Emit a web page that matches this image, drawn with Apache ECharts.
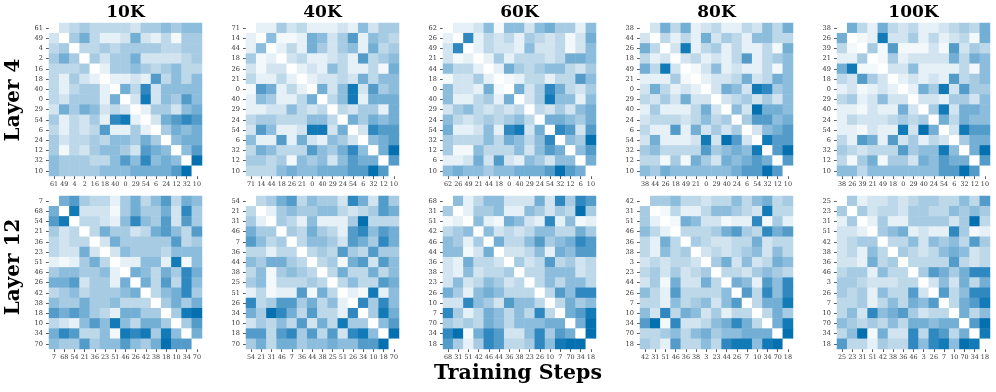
<!DOCTYPE html>
<html>
<head>
<meta charset="utf-8">
<style>html,body{margin:0;padding:0;background:#fff}#main{width:996px;height:392px}</style>
<script src="https://cdn.jsdelivr.net/npm/echarts@6/dist/echarts.min.js"></script>
</head>
<body>
<div id="main"></div>
<script>
var steps = ['10K', '40K', '60K', '80K', '100K'];
var layers = ['Layer 4', 'Layer 12'];

// tick labels per panel
var ticksL4 = [
	[61,49,4,2,16,18,40,0,29,54,6,24,12,32,10],
	[71,14,44,18,26,21,0,40,29,24,54,6,32,12,10],
	[62,26,49,21,44,18,0,40,29,24,54,32,12,6,10],
	[38,44,26,18,49,21,0,29,40,24,6,54,32,12,10],
	[38,26,39,21,49,18,0,29,40,24,54,6,32,12,10]
];
var ticksL12 = [
	[7,68,54,21,36,23,51,46,26,42,38,18,10,34,70],
	[54,21,31,46,7,36,44,38,25,51,26,34,10,18,70],
	[68,31,51,42,46,44,36,38,23,26,10,7,70,34,18],
	[42,31,51,46,36,38,3,23,44,26,7,10,34,70,18],
	[25,23,31,51,42,38,36,46,3,26,7,10,70,34,18]
];

// cell values
var l4_10k = [
	[0,2,3,4,3,3,3,3,2,4,4,5,4,5,5],
	[2,0,4,6,3,1,1,2,6,2,1,3,0.5,4,4],
	[3,4,0,3,3,4,3,4,4,4,4,3,3,4,4],
	[4,6,4,0,4,2,4,4,6,2,2,2,2,3,4],
	[3,3,3,4,0,1,4,4,5,4,3,4,5,3,3],
	[3,1,4,2,1,0,1,1,2,1,7,3,5,3,5],
	[3,1,3,4,4,1,0,6,3,8,2,5,5,5,5],
	[3,2,4,4,4,1,6,0,2,9,2,5,4,7,5],
	[2,6,4,6,5,2,3,2,0,1,4,4,2,5,6],
	[4,1,3,2,4,1,8,9,1,0,2,6,7,8,7],
	[3,1,3,2,3,7,1,1,4,1,0,4,6,5,6],
	[4,2,3,3,4,3,5,5,4,6,4,0,5,6,6],
	[4,0.5,3,2,4,5,5,4,2,7,6,5,0,5,7],
	[5,4,4,4,3,3,5,7,5,8,5,6,5,0,10],
	[5,4,4,4,4,5,5,5,6,6,6,6,7,10,0]
];
var l4_40k = [
	[0,1,1,4,2,3,1,1,1,2,1,5,2,4,4],
	[1,0,5,0.5,0.5,1,6,5,2,4,7,1,5,4,3],
	[1,5,0,1,3,1,6,4,2,4,5,1,6,3,4],
	[4,0.5,1,0,2,3,1,1,2,3,1,7,3,4,5],
	[2,0.5,2,2,0,1,2,1,5,3,1,1,3,0.5,6],
	[3,1,1,3,1,0,1,2,2,3,2,6,3,5,5],
	[0.5,7,6,1,3,1,0,6,2,5,9,2,7,4,5],
	[1,5,4,1,1,3,6,0,3,5,9,1,6,6,6],
	[1,1,2,2,5,3,2,3,0,3,2,4,4,1,6],
	[3,4,4,3,3,3,5,5,3,0,6,4,6,5,6],
	[2,7,5,1,1,2,9,9,2,6,0,2,8,7,7],
	[5,1,1,7,1,6,2,1,5,4,2,0,5,6,7],
	[3,6,5,3,3,3,7,5,4,6,8,5,0,6,10],
	[4,4,3,4,0.5,5,4,5,2,5,7,6,6,0,7],
	[3,3,3,5,6,5,5,6,6,6,7,7,10,7,0]
];
var l4_60k = [
	[0,1,1,2,5,0.5,5,5,2,5,6,4,4,1,5],
	[1,0,8,1,3,2,3,1,4,3,2,3,0.5,2,6],
	[2,8,0,1,3,2,2,1,5,2,2,3,0.5,2,5],
	[2,0.5,1,0,1,4,1,3,3,3,2,3,6,6,5],
	[5,3,3,1,0,1,6,4,3,4,5,5,3,2,4],
	[0.5,2,2,4,1,0,0.5,1,3,3,1,3,3,7,5],
	[5,2,2,1,6,0.5,0,6,2,4,8,6,3,2,4],
	[5,1,1,3,4,1,6,0,2,4,9,5,5,1,5],
	[2,4,5,3,2,3,2,3,0,3,2,4,2,5,6],
	[5,3,2,3,4,3,4,5,3,0,6,6,5,4,6],
	[6,1,1,2,5,1,8,9,2,6,0,8,7,2,7],
	[4,3,3,3,5,3,6,5,3,5,8,0,5,4,10],
	[4,0.5,0.5,5,3,3,3,5,2,5,7,6,0,5,7],
	[1,1,2,6,2,7,2,1,5,4,2,5,5,0,6],
	[5,6,5,5,4,5,5,6,6,6,7,10,7,6,0]
];
var l4_80k = [
	[0,2,6,3,6,1,2,3,1,1,3,2,5,3,6],
	[2,0,3,1,3,1,6,2,4,3,1,5,5,3,3],
	[6,3,0,2,9,1,3,4,1,3,1,1,3,0.5,6],
	[3,1,2,0,2,3,1,2,1,3,7,1,3,4,5],
	[6,3,9,2,0,0.5,2,5,1,2,1,1,3,0.5,5],
	[1,1,1,4,0.5,0,1,2,2,3,6,2,3,6,5],
	[2,6,3,1,2,1,0,2,6,5,2,9,8,4,5],
	[3,2,4,2,6,2,2,0,2,3,4,2,4,2,5],
	[1,4,1,1,1,3,6,2,0,5,2,10,6,6,5],
	[2,3,3,3,2,3,5,3,4,0,4,7,7,5,6],
	[3,1,1,7,1,6,2,4,2,4,0,2,5,6,7],
	[2,6,1,1,1,2,9,2,10,7,2,0,9,7,7],
	[4,5,3,3,3,3,7,4,5,6,5,9,0,7,10],
	[3,3,0.5,4,0.5,6,4,2,6,5,6,7,6,0,7],
	[5,4,6,5,5,5,5,5,5,6,7,7,10,7,0]
];
var l4_100k = [
	[0,6,3,1,6,3,2,3,1,1,2,3,4,3,6],
	[6,0,0.5,1,9,2,2,4,1,3,1,2,3,0.5,6],
	[3,0.5,0,4,0.5,7,0.5,0.5,0.5,2,0.5,7,2,4,3],
	[1,1,4,0,0.5,4,1,2,2,2,2,6,3,6,5],
	[6,9,0.5,0.5,0,2,2,5,1,1,1,1,3,0.5,5],
	[3,2,7,4,2,0,1,2,1,2,1,7,3,4,5],
	[1,2,0.5,1,2,1,0,1,6,4,9,2,7,4,4],
	[3,4,1,2,5,2,2,0,2,2,1,4,4,2,5],
	[1,1,0.5,2,1,1,6,2,0,4,9,2,6,6,5],
	[1,3,2,2,2,3,4,3,4,0,6,3,6,5,5],
	[1,1,0.5,2,1,1,9,2,10,6,0,2,9,7,7],
	[3,1,7,6,1,7,2,4,1,3,2,0,4,6,6],
	[4,3,2,3,3,3,7,4,5,5,9,5,0,6,10],
	[3,0.5,4,6,0.5,4,4,2,6,5,7,6,6,0,7],
	[5,5,3,5,5,5,5,5,5,5,7,7,10,7,0]
];
var l12_10k = [
	[0,6,7,4,3,3,1,4,6,3,5,7,3,6,5],
	[6,0,9,2,2,2,0.5,4,6,4,4,6,2,8,4],
	[7,9,0,3,3,2,1,5,8,5,4,7,2,7,4],
	[4,2,3,0,3,6,4,4,2,3,6,7,5,3,7],
	[3,2,3,3,0,2,6,4,4,4,4,4,7,3,4],
	[3,2,2,6,2,0,2,5,4,4,4,3,5,5,5],
	[1,0.5,1,4,6,3,0,1,1,5,5,1,9,0.5,5],
	[4,5,5,4,4,5,1,0,6,5,3,6,4,8,6],
	[6,6,7,2,4,4,1,6,0,6,3,7,3,8,5],
	[3,4,5,3,4,4,4,5,6,0,3,5,6,8,4],
	[5,4,4,6,4,4,5,3,3,3,0,4,6,4,6],
	[7,6,7,6,4,3,1,6,6,4,4,0,4,9,10],
	[3,2,1,5,7,5,9,5,3,6,6,4,0,4,7],
	[6,8,7,3,3,5,0.5,9,8,9,4,9,5,0,6],
	[5,4,4,7,4,5,5,7,5,4,6,10,7,7,0]
];
var l12_40k = [
	[0,3,4,6,7,3,5,4,4,2,8,6,2,7,4],
	[3,0,1,4,5,4,4,5,5,3,2,3,4,7,6],
	[4,1,0,4,3,1,5,1,1,1,4,10,3,3,3],
	[6,4,4,0,4,3,6,4,3,1,7,8,5,7,6],
	[7,5,3,4,0,3,5,5,4,2,7,6,4,8,6],
	[3,3,1,3,3,0,3,4,3,7,4,3,7,4,4],
	[5,4,6,6,4,3,0,3,4,0.5,6,7,2,7,5],
	[3,5,0.5,4,5,4,3,0,3,6,3,3,6,3,5],
	[4,5,0.5,3,3,3,4,3,0,3,5,3,3,7,6],
	[1,3,0.5,1,1,7,0.5,6,3,0,1,0.5,9,1,5],
	[8,3,4,7,7,4,6,3,5,1,0,8,4,8,5],
	[6,4,10,8,6,3,7,3,3,1,8,0,4,9,6],
	[2,4,3,5,3,7,2,6,3,9,4,4,0,5,7],
	[7,7,3,7,8,4,7,3,7,2,8,9,5,0,10],
	[4,6,3,6,6,4,5,5,6,5,5,7,7,10,0]
];
var l12_60k = [
	[0,5,1,3,5,5,2,2,2,6,2,8,4,8,7],
	[4,0,1,4,4,5,1,1,5,4,2,4,3,10,4],
	[0.5,1,0,5,1,0.5,6,5,2,1,8,1,5,0.5,1],
	[3,4,5,0,5,2,3,2,3,5,5,3,3,6,4],
	[5,4,1,4,0,6,3,3,5,7,4,5,6,8,7],
	[5,5,0.5,2,6,0,2,2,3,5,1,6,5,7,7],
	[2,1,6,3,3,2,0,4,2,3,7,3,4,2,3],
	[2,1,5,2,3,3,4,0,3,3,5,5,5,2,3],
	[2,5,2,3,5,4,2,3,0,3,5,3,5,5,3],
	[6,4,1,5,6,5,3,3,3,0,3,7,5,8,8],
	[2,2,8,5,4,2,7,5,5,3,0,3,6,4,5],
	[8,4,1,3,6,5,3,5,3,8,3,0,6,7,9],
	[4,3,4,3,6,5,3,5,5,5,6,6,0,6,10],
	[8,10,0.5,6,8,7,2,2,5,8,4,7,6,0,10],
	[7,4,1,4,8,7,3,3,4,8,5,9,10,10,0]
];
var l12_80k = [
	[0,4,4,5,3,3,2,3,3,5,3,5,6,3,4],
	[4,0,0.5,3,1,1,3,5,5,4,3,2,9,3,3],
	[4,1,0,0.5,6,5,2,2,0.5,1,1,8,0.5,4,1],
	[5,3,1,0,3,3,3,4,6,7,4,3,8,6,7],
	[3,1,6,3,0,4,3,2,2,3,3,6,2,3,3],
	[3,1,5,3,4,0,2,3,2,3,4,5,2,5,3],
	[2,3,2,3,3,2,0,4,6,2,5,2,3,6,5],
	[3,4,2,4,2,3,4,0,3,3,2,4,5,4,3],
	[2,4,0.5,6,2,2,6,3,0,6,5,1,7,5,8],
	[5,3,1,7,3,3,3,3,5,0,7,3,8,5,8],
	[3,3,1,5,3,4,5,2,5,7,0,3,6,6,9],
	[5,2,8,3,6,5,2,4,1,3,3,0,3,6,4],
	[7,10,0.5,8,2,2,3,5,6,8,6,3,0,6,9],
	[3,3,4,5,3,5,6,4,5,5,6,6,6,0,10],
	[4,3,1,7,3,3,5,3,8,9,9,5,9,10,0]
];
var l12_100k = [
	[0,4,1,2,2,3,2,3,4,4,3,3,5,3,7],
	[4,0,4,2,3,3,2,4,4,3,3,5,4,5,4],
	[1,4,0,1,4,1,1,4,4,4,4,2,4,10,3],
	[2,2,1,0,4,5,6,1,2,1,1,8,4,0.5,1],
	[2,3,4,4,0,3,3,5,2,5,4,5,3,7,4],
	[2,3,1,5,3,0,4,3,2,3,5,6,5,2,3],
	[2,2,1,6,3,4,0,3,3,3,3,7,3,2,3],
	[3,4,4,1,5,3,3,0,4,7,6,4,6,8,8],
	[4,4,3,2,2,2,3,3,0,2,5,2,6,3,6],
	[4,3,4,1,5,3,3,7,2,0,7,3,5,8,8],
	[3,3,4,1,3,5,3,6,5,7,0,3,6,7,9],
	[3,5,2,8,5,6,7,4,2,3,3,0,6,3,5],
	[5,4,3,4,3,5,3,6,6,5,6,6,0,7,10],
	[3,5,10,0.5,6,2,2,8,3,8,7,3,6,0,9],
	[7,3,3,1,4,3,3,8,5,8,9,5,10,9,0]
];

var panels = [
	[l4_10k, l4_40k, l4_60k, l4_80k, l4_100k],
	[l12_10k, l12_40k, l12_60k, l12_80k, l12_100k]
];
var ticks = [ticksL4, ticksL12];

var myChart = echarts.init(document.getElementById('main'), null, {renderer: 'canvas'});

var serif = '"DejaVu Serif"';
var lefts = [49, 246, 443, 640, 837];
var tops = [23, 196];
var layerY = [100, 267];
var size = 153;

var grids = [], xAxes = [], yAxes = [], series = [], graphics = [];

function cells(matrix) {
	var out = [];
	for (var r = 0; r < matrix.length; r++) {
		for (var c = 0; c < matrix[r].length; c++) {
			out.push([c, r, matrix[r][c]]);
		}
	}
	return out;
}

for (var row = 0; row < 2; row++) {
	for (var col = 0; col < 5; col++) {
		var names = ticks[row][col].map(String);
		grids.push({left: lefts[col], top: tops[row], width: size, height: size});
		var common = {
			type: 'category',
			data: names,
			gridIndex: grids.length - 1,
			axisLine: {show: false},
			splitLine: {show: false},
			axisTick: {show: true, alignWithLabel: true, length: 3, lineStyle: {color: '#333', width: 0.8}}
		};
		xAxes.push(Object.assign({}, common, {
			position: 'bottom',
			axisLabel: {interval: 0, fontSize: 6.4, fontFamily: serif, color: '#333', margin: 5, hideOverlap: false}
		}));
		yAxes.push(Object.assign({}, common, {
			inverse: true,
			axisLabel: {interval: 0, fontSize: 6.6, fontFamily: serif, color: '#333', margin: 6, hideOverlap: false}
		}));
		series.push({
			type: 'heatmap',
			xAxisIndex: grids.length - 1,
			yAxisIndex: grids.length - 1,
			data: cells(panels[row][col]),
			itemStyle: {borderWidth: 0},
			emphasis: {disabled: true},
			progressive: 0,
			animation: false
		});
	}
}

// column titles
for (var i = 0; i < steps.length; i++) {
	graphics.push({
		type: 'text', x: lefts[i] + size / 2, y: 13,
		style: {text: steps[i], font: 'bold 17px ' + serif, fill: '#000', textAlign: 'center', textVerticalAlign: 'middle'}
	});
}
// row titles
for (var j = 0; j < layers.length; j++) {
	graphics.push({
		type: 'text', x: 14, y: layerY[j], rotation: Math.PI / 2,
		style: {text: layers[j], font: 'bold 20px ' + serif, fill: '#000', textAlign: 'center', textVerticalAlign: 'middle'}
	});
}
graphics.push({
	type: 'text', x: 518, y: 374,
	style: {text: 'Training Steps', font: 'bold 20.5px ' + serif, fill: '#000', textAlign: 'center', textVerticalAlign: 'middle'}
});

var option = {
	animation: false,
	backgroundColor: '#fff',
	tooltip: {show: false},
	grid: grids,
	xAxis: xAxes,
	yAxis: yAxes,
	visualMap: {
		show: false,
		min: 0,
		max: 10,
		seriesIndex: series.map(function (s, i) { return i; }),
		inRange: {color: ['#ffffff', '#e6f0f7', '#d1e4f0', '#bcd8e9', '#a6cbe3', '#8dbddc', '#73aed4', '#539cca', '#3088c0', '#127bb7', '#0570b0']}
	},
	graphic: graphics,
	series: series
};
myChart.setOption(option);
</script>
</body>
</html>
